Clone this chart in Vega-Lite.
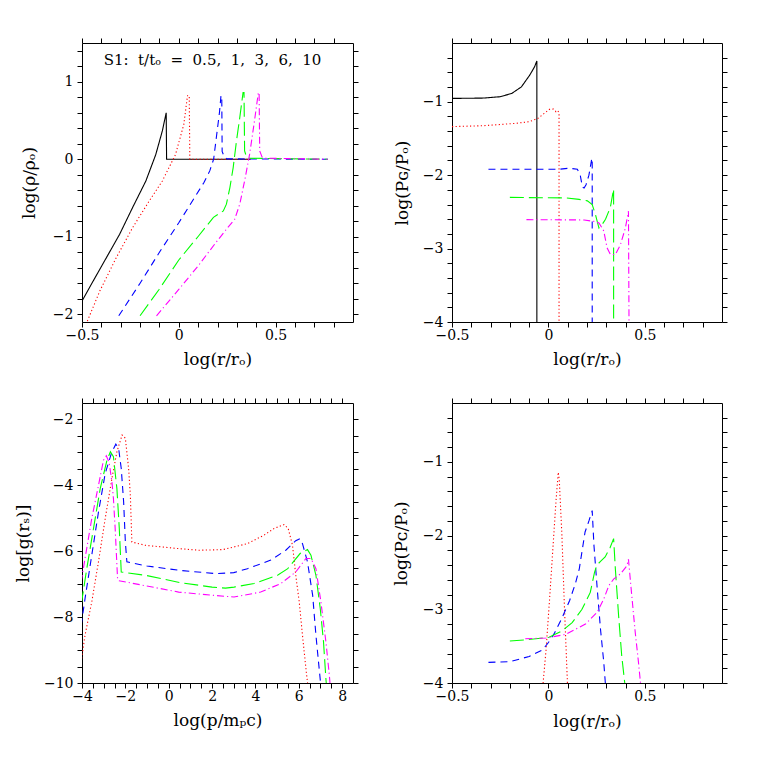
{
  "$schema": "https://vega.github.io/schema/vega-lite/v6.json",
  "background": "white",
  "padding": {"left": 13, "top": 37, "right": 5, "bottom": 5},
  "config": {
    "view": {"stroke": "black", "strokeWidth": 1},
    "axis": {"grid": false, "domain": false, "tickColor": "black", "tickWidth": 1, "labelColor": "black", "titleColor": "black", "labelFont": "DejaVu Serif", "labelFontSize": 14, "titleFont": "DejaVu Serif", "titleFontSize": 17, "titleFontWeight": "normal", "labelFlush": false, "labelOverlap": false, "titleBaseline": "middle"}
  },
  "datasets": {
    "rho": [
      {"s":"a","x":-0.5,"y":-1.83},{"s":"a","x":-0.442,"y":-1.57},{"s":"a","x":-0.374,"y":-1.27},{"s":"a","x":-0.306,"y":-0.97},{"s":"a","x":-0.238,"y":-0.62},{"s":"a","x":-0.17,"y":-0.28},{"s":"a","x":-0.119,"y":0.06},{"s":"a","x":-0.085,"y":0.365},{"s":"a","x":-0.065,"y":0.6},{"s":"a","x":-0.063,"y":0},{"s":"a","x":0.37,"y":0},
      {"s":"b","x":-0.49,"y":-2.17},{"s":"b","x":-0.476,"y":-2.11},{"s":"b","x":-0.408,"y":-1.7},{"s":"b","x":-0.323,"y":-1.27},{"s":"b","x":-0.238,"y":-0.88},{"s":"b","x":-0.153,"y":-0.54},{"s":"b","x":-0.085,"y":-0.28},{"s":"b","x":-0.017,"y":0.06},{"s":"b","x":0.026,"y":0.45},{"s":"b","x":0.045,"y":0.82},{"s":"b","x":0.054,"y":0.82},{"s":"b","x":0.057,"y":0},{"s":"b","x":0.37,"y":0},
      {"s":"c","x":-0.31,"y":-2.02},{"s":"c","x":-0.2,"y":-1.6},{"s":"c","x":-0.1,"y":-1.2},{"s":"c","x":0,"y":-0.82},{"s":"c","x":0.08,"y":-0.5},{"s":"c","x":0.13,"y":-0.3},{"s":"c","x":0.16,"y":-0.15},{"s":"c","x":0.18,"y":0},{"s":"c","x":0.195,"y":0.3},{"s":"c","x":0.21,"y":0.6},{"s":"c","x":0.218,"y":0.82},{"s":"c","x":0.222,"y":0.82},{"s":"c","x":0.224,"y":0.1},{"s":"c","x":0.235,"y":0.03},{"s":"c","x":0.25,"y":0.005},{"s":"c","x":0.77,"y":0},
      {"s":"d","x":-0.2,"y":-2.02},{"s":"d","x":-0.102,"y":-1.68},{"s":"d","x":0,"y":-1.3},{"s":"d","x":0.102,"y":-0.99},{"s":"d","x":0.179,"y":-0.75},{"s":"d","x":0.23,"y":-0.667},{"s":"d","x":0.246,"y":-0.58},{"s":"d","x":0.264,"y":-0.366},{"s":"d","x":0.281,"y":-0.108},{"s":"d","x":0.298,"y":0.236},{"s":"d","x":0.315,"y":0.537},{"s":"d","x":0.332,"y":0.86},{"s":"d","x":0.337,"y":0.86},{"s":"d","x":0.34,"y":0.107},{"s":"d","x":0.35,"y":0.03},{"s":"d","x":0.366,"y":0.013},{"s":"d","x":0.77,"y":0},
      {"s":"e","x":-0.115,"y":-2.02},{"s":"e","x":0,"y":-1.68},{"s":"e","x":0.102,"y":-1.37},{"s":"e","x":0.19,"y":-1.08},{"s":"e","x":0.246,"y":-0.903},{"s":"e","x":0.289,"y":-0.774},{"s":"e","x":0.315,"y":-0.58},{"s":"e","x":0.34,"y":-0.28},{"s":"e","x":0.366,"y":0.065},{"s":"e","x":0.391,"y":0.494},{"s":"e","x":0.411,"y":0.86},{"s":"e","x":0.415,"y":0.86},{"s":"e","x":0.418,"y":0.107},{"s":"e","x":0.43,"y":0.03},{"s":"e","x":0.449,"y":0.013},{"s":"e","x":0.77,"y":0}
    ],
    "pg": [
      {"s":"a","x":-0.5,"y":-0.955},{"s":"a","x":-0.337,"y":-0.95},{"s":"a","x":-0.251,"y":-0.932},{"s":"a","x":-0.19,"y":-0.887},{"s":"a","x":-0.14,"y":-0.797},{"s":"a","x":-0.097,"y":-0.638},{"s":"a","x":-0.072,"y":-0.525},{"s":"a","x":-0.06,"y":-0.444},{"s":"a","x":-0.06,"y":-4.1},
      {"s":"b","x":-0.5,"y":-1.339},{"s":"b","x":-0.336,"y":-1.326},{"s":"b","x":-0.166,"y":-1.294},{"s":"b","x":-0.097,"y":-1.27},{"s":"b","x":-0.054,"y":-1.226},{"s":"b","x":-0.021,"y":-1.158},{"s":"b","x":0.005,"y":-1.104},{"s":"b","x":0.026,"y":-1.1},{"s":"b","x":0.039,"y":-1.136},{"s":"b","x":0.048,"y":-1.12},{"s":"b","x":0.055,"y":-1.15},{"s":"b","x":0.055,"y":-4.1},
      {"s":"c","x":-0.311,"y":-1.92},{"s":"c","x":0.056,"y":-1.92},{"s":"c","x":0.108,"y":-1.905},{"s":"c","x":0.15,"y":-1.92},{"s":"c","x":0.165,"y":-2.0},{"s":"c","x":0.176,"y":-2.16},{"s":"c","x":0.185,"y":-2.176},{"s":"c","x":0.195,"y":-2.13},{"s":"c","x":0.21,"y":-2.0},{"s":"c","x":0.225,"y":-1.77},{"s":"c","x":0.227,"y":-1.8},{"s":"c","x":0.227,"y":-4.1},
      {"s":"d","x":-0.2,"y":-2.303},{"s":"d","x":0.091,"y":-2.31},{"s":"d","x":0.159,"y":-2.33},{"s":"d","x":0.202,"y":-2.35},{"s":"d","x":0.227,"y":-2.4},{"s":"d","x":0.244,"y":-2.54},{"s":"d","x":0.262,"y":-2.72},{"s":"d","x":0.279,"y":-2.67},{"s":"d","x":0.296,"y":-2.6},{"s":"d","x":0.321,"y":-2.44},{"s":"d","x":0.338,"y":-2.19},{"s":"d","x":0.338,"y":-4.1},
      {"s":"e","x":-0.114,"y":-2.606},{"s":"e","x":0.185,"y":-2.61},{"s":"e","x":0.236,"y":-2.63},{"s":"e","x":0.262,"y":-2.65},{"s":"e","x":0.287,"y":-2.76},{"s":"e","x":0.304,"y":-2.99},{"s":"e","x":0.321,"y":-3.08},{"s":"e","x":0.347,"y":-3.08},{"s":"e","x":0.373,"y":-2.95},{"s":"e","x":0.399,"y":-2.72},{"s":"e","x":0.415,"y":-2.49},{"s":"e","x":0.418,"y":-4.1}
    ],
    "g": [
      {"s":"b","x":-4.04,"y":-9.36},{"s":"b","x":-3.86,"y":-8.55},{"s":"b","x":-3.55,"y":-7.54},{"s":"b","x":-3.24,"y":-6.32},{"s":"b","x":-2.93,"y":-5.01},{"s":"b","x":-2.62,"y":-3.79},{"s":"b","x":-2.39,"y":-2.98},{"s":"b","x":-2.15,"y":-2.47},{"s":"b","x":-2.0,"y":-2.57},{"s":"b","x":-1.85,"y":-3.49},{"s":"b","x":-1.77,"y":-4.3},{"s":"b","x":-1.7,"y":-5.72},{"s":"b","x":-1.08,"y":-5.82},{"s":"b","x":0.46,"y":-5.92},{"s":"b","x":1.4,"y":-5.97},{"s":"b","x":2.5,"y":-5.95},{"s":"b","x":3.63,"y":-5.77},{"s":"b","x":4.4,"y":-5.51},{"s":"b","x":4.86,"y":-5.31},{"s":"b","x":5.32,"y":-5.19},{"s":"b","x":5.51,"y":-5.31},{"s":"b","x":5.71,"y":-5.82},{"s":"b","x":5.86,"y":-6.73},{"s":"b","x":6.02,"y":-7.54},{"s":"b","x":6.17,"y":-8.55},{"s":"b","x":6.33,"y":-9.57},{"s":"b","x":6.42,"y":-10.1},
      {"s":"c","x":-4.04,"y":-8.25},{"s":"c","x":-3.86,"y":-7.44},{"s":"c","x":-3.55,"y":-6.12},{"s":"c","x":-3.24,"y":-4.81},{"s":"c","x":-2.93,"y":-3.64},{"s":"c","x":-2.62,"y":-2.98},{"s":"c","x":-2.44,"y":-2.75},{"s":"c","x":-2.31,"y":-2.88},{"s":"c","x":-2.19,"y":-3.49},{"s":"c","x":-2.08,"y":-4.5},{"s":"c","x":-2.0,"y":-5.72},{"s":"c","x":-1.93,"y":-6.32},{"s":"c","x":-1.0,"y":-6.45},{"s":"c","x":0.5,"y":-6.58},{"s":"c","x":2.16,"y":-6.68},{"s":"c","x":3.0,"y":-6.65},{"s":"c","x":3.63,"y":-6.53},{"s":"c","x":4.71,"y":-6.27},{"s":"c","x":5.4,"y":-5.97},{"s":"c","x":5.86,"y":-5.68},{"s":"c","x":6.05,"y":-5.62},{"s":"c","x":6.17,"y":-5.77},{"s":"c","x":6.4,"y":-6.32},{"s":"c","x":6.64,"y":-7.34},{"s":"c","x":6.79,"y":-8.55},{"s":"c","x":6.94,"y":-9.57},{"s":"c","x":7.02,"y":-10.1},
      {"s":"d","x":-4.04,"y":-7.64},{"s":"d","x":-3.78,"y":-6.53},{"s":"d","x":-3.47,"y":-5.31},{"s":"d","x":-3.16,"y":-4.1},{"s":"d","x":-2.85,"y":-3.24},{"s":"d","x":-2.69,"y":-2.98},{"s":"d","x":-2.55,"y":-3.13},{"s":"d","x":-2.39,"y":-4.1},{"s":"d","x":-2.28,"y":-5.31},{"s":"d","x":-2.19,"y":-6.63},{"s":"d","x":-1.08,"y":-6.73},{"s":"d","x":0.5,"y":-6.95},{"s":"d","x":2.0,"y":-7.09},{"s":"d","x":2.62,"y":-7.12},{"s":"d","x":3.01,"y":-7.09},{"s":"d","x":3.94,"y":-6.98},{"s":"d","x":5.02,"y":-6.73},{"s":"d","x":5.49,"y":-6.53},{"s":"d","x":6.06,"y":-6.07},{"s":"d","x":6.4,"y":-5.95},{"s":"d","x":6.56,"y":-6.12},{"s":"d","x":6.79,"y":-6.73},{"s":"d","x":6.99,"y":-7.74},{"s":"d","x":7.14,"y":-8.75},{"s":"d","x":7.25,"y":-9.87},{"s":"d","x":7.28,"y":-10.1},
      {"s":"e","x":-4.04,"y":-6.93},{"s":"e","x":-3.86,"y":-6.22},{"s":"e","x":-3.55,"y":-5.01},{"s":"e","x":-3.24,"y":-4.0},{"s":"e","x":-3.01,"y":-3.24},{"s":"e","x":-2.88,"y":-3.1},{"s":"e","x":-2.75,"y":-3.3},{"s":"e","x":-2.62,"y":-3.89},{"s":"e","x":-2.55,"y":-4.4},{"s":"e","x":-2.47,"y":-5.31},{"s":"e","x":-2.36,"y":-6.83},{"s":"e","x":-2.33,"y":-6.89},{"s":"e","x":0.46,"y":-7.24},{"s":"e","x":2.08,"y":-7.34},{"s":"e","x":3.01,"y":-7.39},{"s":"e","x":4.24,"y":-7.24},{"s":"e","x":5.17,"y":-6.98},{"s":"e","x":5.86,"y":-6.63},{"s":"e","x":6.33,"y":-6.22},{"s":"e","x":6.56,"y":-6.22},{"s":"e","x":6.79,"y":-6.53},{"s":"e","x":7.02,"y":-7.54},{"s":"e","x":7.25,"y":-8.75},{"s":"e","x":7.41,"y":-9.77},{"s":"e","x":7.45,"y":-10.1}
    ],
    "pc": [
      {"s":"b","x":-0.031,"y":-4.1},{"s":"b","x":-0.012,"y":-3.54},{"s":"b","x":0.005,"y":-2.9},{"s":"b","x":0.022,"y":-2.22},{"s":"b","x":0.039,"y":-1.54},{"s":"b","x":0.051,"y":-1.14},{"s":"b","x":0.056,"y":-1.23},{"s":"b","x":0.07,"y":-2.0},{"s":"b","x":0.082,"y":-2.9},{"s":"b","x":0.1,"y":-4.1},
      {"s":"c","x":-0.311,"y":-3.72},{"s":"c","x":-0.2,"y":-3.71},{"s":"c","x":-0.1,"y":-3.64},{"s":"c","x":-0.03,"y":-3.55},{"s":"c","x":0,"y":-3.45},{"s":"c","x":0.03,"y":-3.33},{"s":"c","x":0.07,"y":-3.12},{"s":"c","x":0.11,"y":-2.88},{"s":"c","x":0.14,"y":-2.65},{"s":"c","x":0.16,"y":-2.45},{"s":"c","x":0.175,"y":-2.2},{"s":"c","x":0.19,"y":-1.95},{"s":"c","x":0.21,"y":-1.8},{"s":"c","x":0.227,"y":-1.66},{"s":"c","x":0.236,"y":-2.13},{"s":"c","x":0.253,"y":-2.72},{"s":"c","x":0.27,"y":-3.27},{"s":"c","x":0.287,"y":-3.72},{"s":"c","x":0.298,"y":-4.1},
      {"s":"d","x":-0.2,"y":-3.43},{"s":"d","x":-0.1,"y":-3.41},{"s":"d","x":0.003,"y":-3.38},{"s":"d","x":0.072,"y":-3.29},{"s":"d","x":0.123,"y":-3.18},{"s":"d","x":0.174,"y":-3.0},{"s":"d","x":0.217,"y":-2.77},{"s":"d","x":0.239,"y":-2.5},{"s":"d","x":0.251,"y":-2.4},{"s":"d","x":0.27,"y":-2.35},{"s":"d","x":0.294,"y":-2.29},{"s":"d","x":0.32,"y":-2.16},{"s":"d","x":0.338,"y":-2.04},{"s":"d","x":0.347,"y":-2.45},{"s":"d","x":0.364,"y":-3.09},{"s":"d","x":0.38,"y":-3.63},{"s":"d","x":0.4,"y":-4.1},
      {"s":"e","x":-0.12,"y":-3.4},{"s":"e","x":-0.013,"y":-3.39},{"s":"e","x":0.09,"y":-3.34},{"s":"e","x":0.192,"y":-3.2},{"s":"e","x":0.253,"y":-3.04},{"s":"e","x":0.287,"y":-2.86},{"s":"e","x":0.313,"y":-2.68},{"s":"e","x":0.338,"y":-2.59},{"s":"e","x":0.373,"y":-2.52},{"s":"e","x":0.407,"y":-2.41},{"s":"e","x":0.415,"y":-2.32},{"s":"e","x":0.432,"y":-2.81},{"s":"e","x":0.45,"y":-3.31},{"s":"e","x":0.467,"y":-3.72},{"s":"e","x":0.481,"y":-4.1}
    ]
  },
  "columns": 2,
  "spacing": {"row": 81, "column": 99},
  "bounds": "flush",
  "concat": [
    {
      "width": 271, "height": 279,
      "data": {"name": "rho"},
      "title": {"text": "S1:\u00a0 t/t\u2092\u00a0 =\u00a0 0.5,\u00a0 1,\u00a0 3,\u00a0 6,\u00a0 10", "orient": "top", "anchor": "middle", "offset": -42, "baseline": "alphabetic", "font": "DejaVu Serif", "fontSize": 15, "fontWeight": "normal", "color": "black", "dx": -5},
      "layer": [
        {
          "mark": {"type": "line", "clip": true, "strokeWidth": 1.1},
          "encoding": {
            "x": {"field": "x", "type": "quantitative", "title": "log(r/r\u2092)", "scale": {"domain": [-0.5, 0.9], "nice": false, "zero": false},
              "axis": {"orient": "bottom", "values": [-0.5,-0.4,-0.3,-0.2,-0.1,0,0.1,0.2,0.3,0.4,0.5,0.6,0.7,0.8], "format": "~g", "labelExpr": "abs(datum.value*2-round(datum.value*2))<0.001 ? datum.label : ''", "labelPadding": 1, "titleY": 37,
                "encode": {"ticks": {"update": {"y2": {"signal": "abs(datum.value*2-round(datum.value*2))<0.001 ? -10 : -5"}}}}}},
            "y": {"field": "y", "type": "quantitative", "title": "log(\u03c1/\u03c1\u2092)", "scale": {"domain": [-2.1, 1.5], "nice": false, "zero": false},
              "axis": {"orient": "left", "values": [-2,-1.8,-1.6,-1.4,-1.2,-1,-0.8,-0.6,-0.4,-0.2,0,0.2,0.4,0.6,0.8,1,1.2,1.4], "format": "~g", "labelExpr": "abs(datum.value-round(datum.value))<0.001 ? datum.label : ''", "labelPadding": 4, "titleX": -53,
                "encode": {"ticks": {"update": {"x2": {"signal": "abs(datum.value-round(datum.value))<0.001 ? 10 : 5"}}}}}},
            "color": {"field": "s", "type": "nominal", "scale": {"domain": ["a","b","c","d","e"], "range": ["#000000","#ff0000","#0000ff","#00ff00","#ff00ff"]}, "legend": null},
            "strokeDash": {"field": "s", "type": "nominal", "scale": {"domain": ["a","b","c","d","e"], "range": [[1,0],[1.2,2.4],[7,5],[14,5],[7,3,1.2,3]]}, "legend": null},
            "order": {"value": null}
          }
        },
        {
          "mark": {"type": "point", "opacity": 0},
          "encoding": {
            "x": {"field": "x", "type": "quantitative", "scale": {"domain": [-0.5, 0.9], "nice": false, "zero": false},
              "axis": {"orient": "top", "title": null, "labels": false, "values": [-0.5,-0.4,-0.3,-0.2,-0.1,0,0.1,0.2,0.3,0.4,0.5,0.6,0.7,0.8],
                "encode": {"ticks": {"update": {"y2": {"signal": "abs(datum.value*2-round(datum.value*2))<0.001 ? 10 : 5"}}}}}},
            "y": {"field": "y", "type": "quantitative", "scale": {"domain": [-2.1, 1.5], "nice": false, "zero": false},
              "axis": {"orient": "right", "title": null, "labels": false, "values": [-2,-1.8,-1.6,-1.4,-1.2,-1,-0.8,-0.6,-0.4,-0.2,0,0.2,0.4,0.6,0.8,1,1.2,1.4],
                "encode": {"ticks": {"update": {"x2": {"signal": "abs(datum.value-round(datum.value))<0.001 ? -10 : -5"}}}}}}
          }
        }
      ],
      "resolve": {"axis": {"x": "independent", "y": "independent"}}
    },
    {
      "width": 270, "height": 279,
      "data": {"name": "pg"},
      "layer": [
        {
          "mark": {"type": "line", "clip": true, "strokeWidth": 1.1},
          "encoding": {
            "x": {"field": "x", "type": "quantitative", "title": "log(r/r\u2092)", "scale": {"domain": [-0.5, 0.9], "nice": false, "zero": false},
              "axis": {"orient": "bottom", "values": [-0.5,-0.4,-0.3,-0.2,-0.1,0,0.1,0.2,0.3,0.4,0.5,0.6,0.7,0.8], "format": "~g", "labelExpr": "abs(datum.value*2-round(datum.value*2))<0.001 ? datum.label : ''", "labelPadding": 1, "titleY": 37.5,
                "encode": {"ticks": {"update": {"y2": {"signal": "abs(datum.value*2-round(datum.value*2))<0.001 ? -10 : -5"}}}}}},
            "y": {"field": "y", "type": "quantitative", "title": "log(P\u0262/P\u2092)", "scale": {"domain": [-4, -0.2], "nice": false, "zero": false},
              "axis": {"orient": "left", "values": [-4,-3.8,-3.6,-3.4,-3.2,-3,-2.8,-2.6,-2.4,-2.2,-2,-1.8,-1.6,-1.4,-1.2,-1,-0.8,-0.6,-0.4], "format": "~g", "labelExpr": "abs(datum.value-round(datum.value))<0.001 ? datum.label : ''", "labelPadding": 4, "titleX": -50,
                "encode": {"ticks": {"update": {"x2": {"signal": "abs(datum.value-round(datum.value))<0.001 ? 10 : 5"}}}}}},
            "color": {"field": "s", "type": "nominal", "scale": {"domain": ["a","b","c","d","e"], "range": ["#000000","#ff0000","#0000ff","#00ff00","#ff00ff"]}, "legend": null},
            "strokeDash": {"field": "s", "type": "nominal", "scale": {"domain": ["a","b","c","d","e"], "range": [[1,0],[1.2,2.4],[7,5],[14,5],[7,3,1.2,3]]}, "legend": null},
            "order": {"value": null}
          }
        },
        {
          "mark": {"type": "point", "opacity": 0},
          "encoding": {
            "x": {"field": "x", "type": "quantitative", "scale": {"domain": [-0.5, 0.9], "nice": false, "zero": false},
              "axis": {"orient": "top", "title": null, "labels": false, "values": [-0.5,-0.4,-0.3,-0.2,-0.1,0,0.1,0.2,0.3,0.4,0.5,0.6,0.7,0.8],
                "encode": {"ticks": {"update": {"y2": {"signal": "abs(datum.value*2-round(datum.value*2))<0.001 ? 10 : 5"}}}}}},
            "y": {"field": "y", "type": "quantitative", "scale": {"domain": [-4, -0.2], "nice": false, "zero": false},
              "axis": {"orient": "right", "title": null, "labels": false, "values": [-4,-3.8,-3.6,-3.4,-3.2,-3,-2.8,-2.6,-2.4,-2.2,-2,-1.8,-1.6,-1.4,-1.2,-1,-0.8,-0.6,-0.4],
                "encode": {"ticks": {"update": {"x2": {"signal": "abs(datum.value-round(datum.value))<0.001 ? -10 : -5"}}}}}}
          }
        }
      ],
      "resolve": {"axis": {"x": "independent", "y": "independent"}}
    },
    {
      "width": 271, "height": 280,
      "data": {"name": "g"},
      "layer": [
        {
          "mark": {"type": "line", "clip": true, "strokeWidth": 1.1},
          "encoding": {
            "x": {"field": "x", "type": "quantitative", "title": "log(p/m\u209ac)", "scale": {"domain": [-4, 8.5], "nice": false, "zero": false},
              "axis": {"orient": "bottom", "values": [-4,-3.5,-3,-2.5,-2,-1.5,-1,-0.5,0,0.5,1,1.5,2,2.5,3,3.5,4,4.5,5,5.5,6,6.5,7,7.5,8], "format": "~g", "labelExpr": "abs(datum.value/2-round(datum.value/2))<0.001 ? datum.label : ''", "labelPadding": 1, "titleY": 37.5,
                "encode": {"ticks": {"update": {"y2": {"signal": "abs(datum.value/2-round(datum.value/2))<0.001 ? -10 : -5"}}}}}},
            "y": {"field": "y", "type": "quantitative", "title": "log[g(r\u209b)]", "scale": {"domain": [-10, -1.5], "nice": false, "zero": false},
              "axis": {"orient": "left", "values": [-10,-9.5,-9,-8.5,-8,-7.5,-7,-6.5,-6,-5.5,-5,-4.5,-4,-3.5,-3,-2.5,-2], "format": "~g", "labelExpr": "abs(datum.value/2-round(datum.value/2))<0.001 ? datum.label : ''", "labelPadding": 4, "titleX": -59,
                "encode": {"ticks": {"update": {"x2": {"signal": "abs(datum.value/2-round(datum.value/2))<0.001 ? 10 : 5"}}}}}},
            "color": {"field": "s", "type": "nominal", "scale": {"domain": ["a","b","c","d","e"], "range": ["#000000","#ff0000","#0000ff","#00ff00","#ff00ff"]}, "legend": null},
            "strokeDash": {"field": "s", "type": "nominal", "scale": {"domain": ["a","b","c","d","e"], "range": [[1,0],[1.2,2.4],[7,5],[14,5],[7,3,1.2,3]]}, "legend": null},
            "order": {"value": null}
          }
        },
        {
          "mark": {"type": "point", "opacity": 0},
          "encoding": {
            "x": {"field": "x", "type": "quantitative", "scale": {"domain": [-4, 8.5], "nice": false, "zero": false},
              "axis": {"orient": "top", "title": null, "labels": false, "values": [-4,-3.5,-3,-2.5,-2,-1.5,-1,-0.5,0,0.5,1,1.5,2,2.5,3,3.5,4,4.5,5,5.5,6,6.5,7,7.5,8],
                "encode": {"ticks": {"update": {"y2": {"signal": "abs(datum.value/2-round(datum.value/2))<0.001 ? 10 : 5"}}}}}},
            "y": {"field": "y", "type": "quantitative", "scale": {"domain": [-10, -1.5], "nice": false, "zero": false},
              "axis": {"orient": "right", "title": null, "labels": false, "values": [-10,-9.5,-9,-8.5,-8,-7.5,-7,-6.5,-6,-5.5,-5,-4.5,-4,-3.5,-3,-2.5,-2],
                "encode": {"ticks": {"update": {"x2": {"signal": "abs(datum.value/2-round(datum.value/2))<0.001 ? -10 : -5"}}}}}}
          }
        }
      ],
      "resolve": {"axis": {"x": "independent", "y": "independent"}}
    },
    {
      "width": 270, "height": 280,
      "data": {"name": "pc"},
      "layer": [
        {
          "mark": {"type": "line", "clip": true, "strokeWidth": 1.1},
          "encoding": {
            "x": {"field": "x", "type": "quantitative", "title": "log(r/r\u2092)", "scale": {"domain": [-0.5, 0.9], "nice": false, "zero": false},
              "axis": {"orient": "bottom", "values": [-0.5,-0.4,-0.3,-0.2,-0.1,0,0.1,0.2,0.3,0.4,0.5,0.6,0.7,0.8], "format": "~g", "labelExpr": "abs(datum.value*2-round(datum.value*2))<0.001 ? datum.label : ''", "labelPadding": 1, "titleY": 38,
                "encode": {"ticks": {"update": {"y2": {"signal": "abs(datum.value*2-round(datum.value*2))<0.001 ? -10 : -5"}}}}}},
            "y": {"field": "y", "type": "quantitative", "title": "log(P\u1d04/P\u2092)", "scale": {"domain": [-4, -0.2], "nice": false, "zero": false},
              "axis": {"orient": "left", "values": [-4,-3.8,-3.6,-3.4,-3.2,-3,-2.8,-2.6,-2.4,-2.2,-2,-1.8,-1.6,-1.4,-1.2,-1,-0.8,-0.6,-0.4], "format": "~g", "labelExpr": "abs(datum.value-round(datum.value))<0.001 ? datum.label : ''", "labelPadding": 4, "titleX": -51,
                "encode": {"ticks": {"update": {"x2": {"signal": "abs(datum.value-round(datum.value))<0.001 ? 10 : 5"}}}}}},
            "color": {"field": "s", "type": "nominal", "scale": {"domain": ["a","b","c","d","e"], "range": ["#000000","#ff0000","#0000ff","#00ff00","#ff00ff"]}, "legend": null},
            "strokeDash": {"field": "s", "type": "nominal", "scale": {"domain": ["a","b","c","d","e"], "range": [[1,0],[1.2,2.4],[7,5],[14,5],[7,3,1.2,3]]}, "legend": null},
            "order": {"value": null}
          }
        },
        {
          "mark": {"type": "point", "opacity": 0},
          "encoding": {
            "x": {"field": "x", "type": "quantitative", "scale": {"domain": [-0.5, 0.9], "nice": false, "zero": false},
              "axis": {"orient": "top", "title": null, "labels": false, "values": [-0.5,-0.4,-0.3,-0.2,-0.1,0,0.1,0.2,0.3,0.4,0.5,0.6,0.7,0.8],
                "encode": {"ticks": {"update": {"y2": {"signal": "abs(datum.value*2-round(datum.value*2))<0.001 ? 10 : 5"}}}}}},
            "y": {"field": "y", "type": "quantitative", "scale": {"domain": [-4, -0.2], "nice": false, "zero": false},
              "axis": {"orient": "right", "title": null, "labels": false, "values": [-4,-3.8,-3.6,-3.4,-3.2,-3,-2.8,-2.6,-2.4,-2.2,-2,-1.8,-1.6,-1.4,-1.2,-1,-0.8,-0.6,-0.4],
                "encode": {"ticks": {"update": {"x2": {"signal": "abs(datum.value-round(datum.value))<0.001 ? -10 : -5"}}}}}}
          }
        }
      ],
      "resolve": {"axis": {"x": "independent", "y": "independent"}}
    }
  ]
}
